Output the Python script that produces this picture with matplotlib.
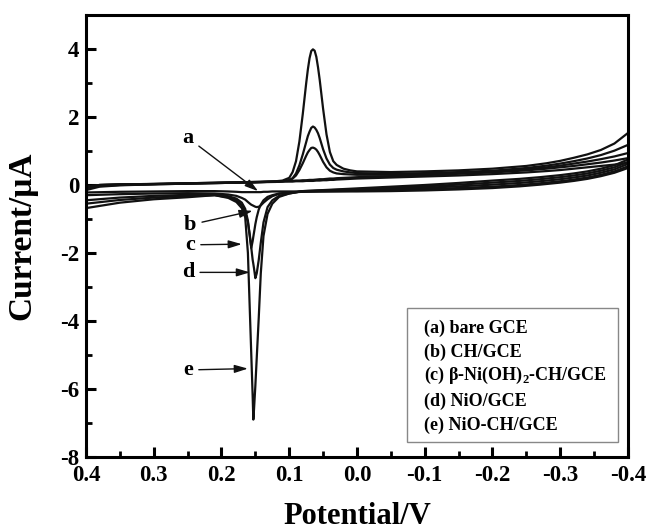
import matplotlib
matplotlib.use("Agg")
import matplotlib.pyplot as plt
from matplotlib.ticker import MultipleLocator
from matplotlib.patches import Rectangle

plt.rcParams['font.family'] = ['Liberation Serif', 'DejaVu Serif']
plt.rcParams['font.weight'] = 'bold'
plt.rcParams['axes.unicode_minus'] = False
plt.rcParams['mathtext.fontset'] = 'custom'
plt.rcParams['mathtext.bf'] = 'Liberation Serif:bold'
plt.rcParams['mathtext.rm'] = 'Liberation Serif:bold'

# ---- data ----
# forward (upper) branch potential grid, 0.4 -> -0.4 V
pot_upper = [0.40, 0.38, 0.35, 0.30, 0.25, 0.20, 0.15, 0.12, 0.11, 0.10, 0.095, 0.09,
             0.085, 0.08, 0.075, 0.0725, 0.07, 0.0675, 0.065, 0.0625, 0.06, 0.0575,
             0.055, 0.05, 0.045, 0.04, 0.035,
             0.03, 0.02, 0.01, 0.00, -0.05, -0.10, -0.15, -0.20, -0.25, -0.28, -0.30,
             -0.32, -0.34, -0.36, -0.38, -0.40]

upper_a = [-0.05, 0.00, 0.02, 0.03, 0.05, 0.06, 0.08, 0.09, 0.10, 0.10, 0.10, 0.11,
           0.11, 0.11, 0.12, 0.12, 0.12, 0.12, 0.12, 0.125, 0.13, 0.13,
           0.13, 0.14, 0.14, 0.15, 0.15,
           0.16, 0.17, 0.18, 0.19, 0.22, 0.25, 0.28, 0.32, 0.37, 0.41, 0.44,
           0.48, 0.52, 0.56, 0.60, 0.65]
upper_b = [-0.08, 0.00, 0.01, 0.03, 0.05, 0.07, 0.09, 0.10, 0.11, 0.12, 0.12, 0.13,
           0.13, 0.14, 0.14, 0.145, 0.15, 0.15, 0.15, 0.155, 0.16, 0.165,
           0.17, 0.17, 0.18, 0.19, 0.19,
           0.20, 0.21, 0.22, 0.23, 0.26, 0.29, 0.33, 0.37, 0.43, 0.48, 0.52,
           0.56, 0.61, 0.66, 0.72, 0.79]
upper_c = [-0.15, -0.05, -0.01, 0.02, 0.04, 0.06, 0.08, 0.10, 0.11, 0.14, 0.19, 0.28,
           0.44, 0.64, 0.86, 0.96, 1.03, 1.09, 1.10, 1.08, 1.04, 0.97,
           0.88, 0.68, 0.52, 0.42, 0.37,
           0.34, 0.32, 0.31, 0.30, 0.30, 0.32, 0.35, 0.39, 0.46, 0.52, 0.57,
           0.63, 0.69, 0.76, 0.84, 0.94]
upper_d = [-0.10, -0.03, 0.00, 0.02, 0.04, 0.06, 0.08, 0.10, 0.11, 0.14, 0.20, 0.34,
           0.58, 0.90, 1.26, 1.44, 1.57, 1.68, 1.72, 1.69, 1.62, 1.52,
           1.38, 1.05, 0.78, 0.60, 0.50,
           0.45, 0.40, 0.37, 0.35, 0.33, 0.35, 0.38, 0.42, 0.50, 0.57, 0.63,
           0.70, 0.78, 0.88, 1.01, 1.18]
upper_e = [-0.05, 0.00, 0.02, 0.03, 0.05, 0.07, 0.09, 0.11, 0.13, 0.21, 0.38, 0.70,
           1.28, 2.09, 2.99, 3.40, 3.73, 3.94, 3.99, 3.95, 3.77, 3.46,
           3.09, 2.24, 1.49, 0.97, 0.70,
           0.59, 0.48, 0.43, 0.40, 0.38, 0.40, 0.43, 0.48, 0.56, 0.64, 0.71,
           0.80, 0.90, 1.03, 1.22, 1.53]

# reverse (lower) branch potential grid, -0.4 -> 0.4 V
pot_lower = [-0.40, -0.38, -0.36, -0.34, -0.32, -0.30, -0.27, -0.24, -0.20, -0.15,
             -0.10, -0.05, 0.00, 0.05, 0.08, 0.10, 0.115, 0.125, 0.132, 0.138,
             0.142, 0.145, 0.148, 0.150, 0.152, 0.153, 0.154, 0.156, 0.158, 0.161,
             0.165, 0.170, 0.178, 0.19, 0.21, 0.25, 0.30, 0.35, 0.40]

lower_a = [0.50, 0.36, 0.26, 0.18, 0.12, 0.07, 0.01, -0.04, -0.09, -0.13,
           -0.16, -0.18, -0.19, -0.19, -0.19, -0.19, -0.19, -0.19, -0.20, -0.20,
           -0.21, -0.21, -0.21, -0.21, -0.21, -0.21, -0.21, -0.21, -0.21, -0.21,
           -0.21, -0.21, -0.20, -0.19, -0.18, -0.18, -0.19, -0.20, -0.22]
lower_b = [0.55, 0.40, 0.30, 0.22, 0.16, 0.11, 0.05, 0.00, -0.05, -0.09,
           -0.12, -0.15, -0.17, -0.19, -0.20, -0.22, -0.26, -0.33, -0.42, -0.52,
           -0.60, -0.64, -0.65, -0.64, -0.62, -0.61, -0.60, -0.58, -0.55, -0.50,
           -0.43, -0.38, -0.32, -0.28, -0.25, -0.24, -0.25, -0.27, -0.30]
lower_c = [0.62, 0.46, 0.36, 0.28, 0.22, 0.17, 0.11, 0.06, 0.01, -0.04,
           -0.08, -0.12, -0.15, -0.17, -0.19, -0.22, -0.25, -0.30, -0.35, -0.45,
           -0.58, -0.72, -0.95, -1.15, -1.40, -1.52, -1.65, -1.85, -1.55, -1.05,
           -0.70, -0.52, -0.40, -0.33, -0.28, -0.29, -0.32, -0.37, -0.45]
lower_d = [0.68, 0.52, 0.42, 0.34, 0.28, 0.23, 0.17, 0.12, 0.07, 0.01,
           -0.04, -0.08, -0.12, -0.16, -0.18, -0.25, -0.32, -0.45, -0.65, -1.10,
           -1.70, -2.20, -2.60, -2.74, -2.45, -2.32, -2.20, -1.85, -1.50, -1.10,
           -0.80, -0.60, -0.45, -0.36, -0.30, -0.32, -0.37, -0.44, -0.55]
lower_e = [0.75, 0.58, 0.48, 0.40, 0.34, 0.29, 0.23, 0.18, 0.13, 0.06,
           0.00, -0.05, -0.10, -0.15, -0.18, -0.25, -0.35, -0.55, -0.85, -1.50,
           -2.60, -3.90, -5.10, -5.90, -6.60, -6.90, -6.20, -5.00, -3.80, -2.00,
           -0.95, -0.68, -0.50, -0.38, -0.30, -0.36, -0.42, -0.52, -0.68]

uppers = [upper_a, upper_b, upper_c, upper_d, upper_e]
lowers = [lower_a, lower_b, lower_c, lower_d, lower_e]

curve_labels = ['a', 'b', 'c', 'd', 'e']
label_text_pos = [(0.249, 1.38), (0.246, -1.17), (0.246, -1.76), (0.249, -2.57), (0.249, -5.44)]
label_arrow_tip = [(0.146, -0.18), (0.154, -0.76), (0.170, -1.74), (0.158, -2.57), (0.161, -5.40)]

legend_lines = ['(a) bare GCE', '(b) CH/GCE', r'(c) β-Ni(OH)$_\mathbf{2}$-CH/GCE',
                '(d) NiO/GCE', '(e) NiO-CH/GCE']

xticks = [0.4, 0.3, 0.2, 0.1, 0.0, -0.1, -0.2, -0.3, -0.4]
xticklabels = ['0.4', '0.3', '0.2', '0.1', '0.0', '-0.1', '-0.2', '-0.3', '-0.4']
yticks = [4, 2, 0, -2, -4, -6, -8]
yticklabels = ['4', '2', '0', '-2', '-4', '-6', '-8']

# ---- figure ----
fig = plt.figure(figsize=(6.49, 5.32), dpi=100)
ax = fig.add_axes([0.1325, 0.141, 0.8351, 0.8308])

for u, l in zip(uppers, lowers):
    ax.plot(pot_upper, u, color='#111111', lw=1.6, solid_joinstyle='round')
    ax.plot(pot_lower, l, color='#111111', lw=1.6, solid_joinstyle='round')

ax.set_xlim(0.4, -0.4)
ax.set_ylim(-8, 5)

ax.set_xticks(xticks)
ax.set_xticklabels(xticklabels)
ax.set_yticks(yticks)
ax.set_yticklabels(yticklabels)
ax.xaxis.set_minor_locator(MultipleLocator(0.05))
ax.yaxis.set_minor_locator(MultipleLocator(1))
ax.tick_params(which='major', direction='in', length=7, width=2.2,
               labelsize=16.5, top=False, right=False)
ax.tick_params(axis='x', which='major', pad=6)
ax.tick_params(axis='y', which='major', pad=5)
ax.tick_params(which='minor', direction='in', length=4, width=2.0,
               top=False, right=False)
for lab in ax.get_xticklabels() + ax.get_yticklabels():
    lab.set_fontweight('bold')
for sp in ax.spines.values():
    sp.set_linewidth(2.2)

ax.set_xlabel('Potential/V', fontsize=22, fontweight='bold')
ax.set_ylabel('Current/μA', fontsize=24, fontweight='bold')
ax.xaxis.set_label_coords(0.5, -0.102)
ax.yaxis.set_label_coords(-0.09, 0.5)

for lab, tp, tip in zip(curve_labels, label_text_pos, label_arrow_tip):
    ax.annotate(lab, xy=tip, xytext=tp, ha='center', va='center',
                fontsize=16, fontweight='bold',
                arrowprops=dict(arrowstyle='-|>,head_length=0.5,head_width=0.15',
                                color='#111111', lw=1.0, shrinkA=2, shrinkB=0))

# legend box
box = Rectangle((407 / 649, 1 - 442 / 532), (618 - 407) / 649, (442 - 308) / 532,
                transform=fig.transFigure, facecolor='white', edgecolor='#888888', lw=1.0)
fig.patches.append(box)
ys = [328, 352, 375, 401, 425]
for t, yy in zip(legend_lines, ys):
    fig.text(424 / 649, 1 - yy / 532, t, fontsize=13, fontweight='bold',
             ha='left', va='center')

fig.savefig('out.png', dpi=100)
